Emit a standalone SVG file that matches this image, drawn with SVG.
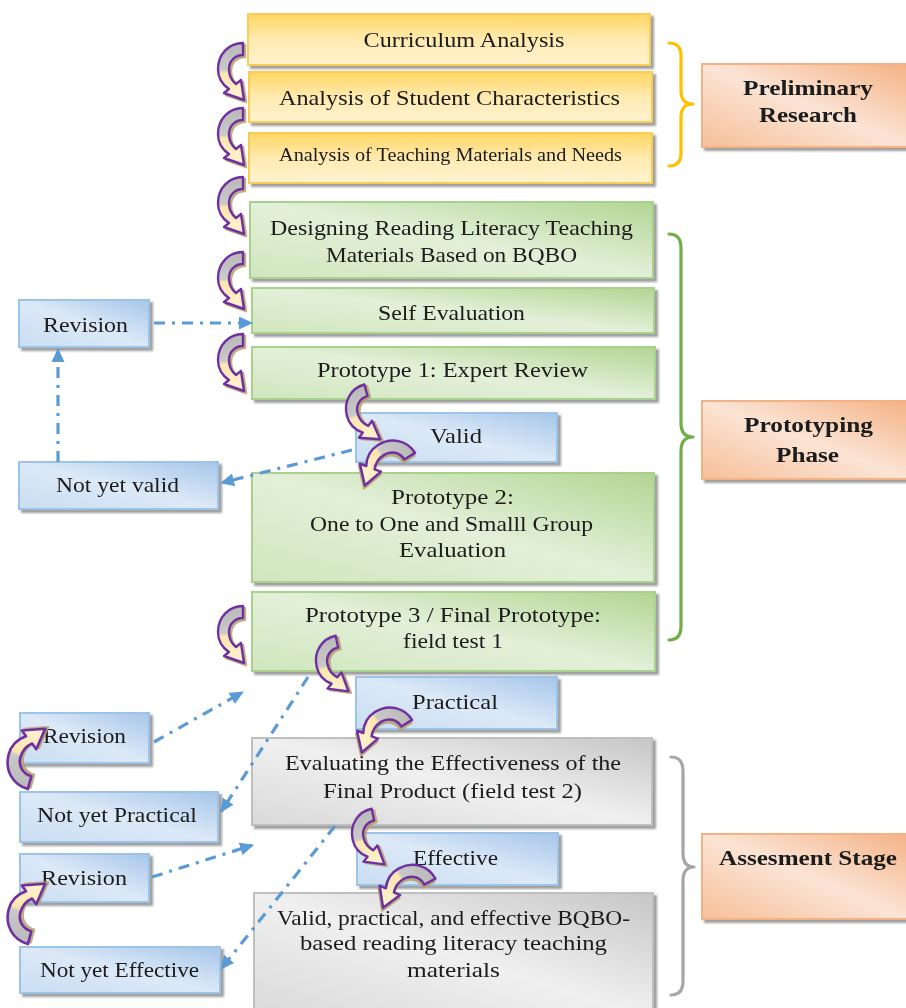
<svg xmlns="http://www.w3.org/2000/svg" xmlns:xlink="http://www.w3.org/1999/xlink" width="906" height="1008" viewBox="0 0 906 1008">
<defs>
<style>
text{font-family:"Liberation Serif","DejaVu Serif",serif;fill:#1a1a1a;text-anchor:middle}
.b{font-weight:bold}
.box{stroke-width:2}
.y{fill:url(#gy);stroke:#f9cc56}
.g{fill:url(#gg);stroke:#a9d18e}
.bl{fill:url(#gb);stroke:#9dc3e6}
.gr{fill:url(#ggr);stroke:#bfbfbf}
.o{fill:url(#go);stroke:#f4b183}
.conn{stroke:#5b9bd5;stroke-width:3.2;fill:none;stroke-dasharray:11 7 3 7;marker-end:url(#ah)}
.brace{fill:none;stroke-width:3.2;stroke-linecap:round;stroke-linejoin:round}
.ca{fill:url(#gca);stroke:#7030a0;stroke-width:2.4;stroke-linejoin:round}
.cas{fill:#b4a06e;stroke:#b4a06e;stroke-width:2.4;stroke-linejoin:round;opacity:.85}
</style>
<filter id="sh" x="-5%" y="-10%" width="115%" height="130%">
<feDropShadow dx="3" dy="3" stdDeviation="1" flood-color="#7f7f7f" flood-opacity="0.75"/>
</filter>
<linearGradient id="gy" x1="0" y1="0" x2="0" y2="1">
<stop offset="0" stop-color="#ffd663"/><stop offset="0.5" stop-color="#ffeab0"/><stop offset="1" stop-color="#fff3d0"/>
</linearGradient>
<linearGradient id="gg" x1="1" y1="0" x2="0" y2="1">
<stop offset="0" stop-color="#b2d592"/><stop offset="0.5" stop-color="#e3f0d9"/><stop offset="1" stop-color="#d0e6bd"/>
</linearGradient>
<linearGradient id="gb" x1="1" y1="0" x2="0" y2="1">
<stop offset="0" stop-color="#a6c6ea"/><stop offset="0.5" stop-color="#dce9f7"/><stop offset="1" stop-color="#c9ddf2"/>
</linearGradient>
<linearGradient id="ggr" x1="1" y1="0" x2="0" y2="1">
<stop offset="0" stop-color="#c6c6c6"/><stop offset="0.5" stop-color="#f0f0f0"/><stop offset="1" stop-color="#d9d9d9"/>
</linearGradient>
<linearGradient id="go" x1="1" y1="0" x2="0" y2="1">
<stop offset="0" stop-color="#f4b183"/><stop offset="0.5" stop-color="#fbe4d5"/><stop offset="1" stop-color="#f6bf98"/>
</linearGradient>
<linearGradient id="gca" x1="0" y1="0" x2="0" y2="1">
<stop offset="0" stop-color="#b9b9b9"/><stop offset="0.47" stop-color="#c9c9c9"/><stop offset="0.53" stop-color="#fde6ae"/><stop offset="1" stop-color="#fff4d4"/>
</linearGradient>
<marker id="ah" markerUnits="userSpaceOnUse" markerWidth="15" markerHeight="13" refX="13" refY="6.5" orient="auto">
<path d="M0,0 L14,6.5 L0,13 Z" fill="#5b9bd5"/>
</marker>
<path id="cap" d="M25 1 C11 1 0 12 0 27 C0 36 5 43 11 47 L6 51 L26 58 L23 38 L18 42 C13 38 11 33 11 27 C11 19 17 13 25 13 Z"/>
<g id="carrow">
<use xlink:href="#cap" href="#cap" class="cas" transform="translate(2,2)"/>
<use xlink:href="#cap" href="#cap" class="ca"/>
</g>
</defs>
<rect width="906" height="1008" fill="#ffffff"/>

<!-- braces -->
<g id="braces">
<path class="brace" stroke="#ffc000" d="M669 43 Q681 43 681 56 L681 91 Q681 104 693 104 Q681 104 681 117 L681 153 Q681 166 669 166"/>
<path class="brace" stroke="#70ad47" d="M669 234 Q681 234 681 248 L681 423 Q681 437 693 437 Q681 437 681 451 L681 626 Q681 640 669 640"/>
<path class="brace" stroke="#a6a6a6" d="M671 757 Q683 757 683 771 L683 853 Q683 867 694 867 Q683 867 683 881 L683 981 Q683 995 671 995"/>
</g>

<!-- phase labels -->
<g id="preliminary" filter="url(#sh)">
<rect class="box o" x="702" y="64" width="208" height="83"/>
<text class="b" x="808" y="95" font-size="21" textLength="130" lengthAdjust="spacingAndGlyphs">Preliminary</text>
<text class="b" x="808" y="122" font-size="21" textLength="98" lengthAdjust="spacingAndGlyphs">Research</text>
</g>
<g id="prototyping" filter="url(#sh)">
<rect class="box o" x="702" y="401" width="208" height="78"/>
<text class="b" x="808.5" y="432" font-size="21" textLength="129" lengthAdjust="spacingAndGlyphs">Prototyping</text>
<text class="b" x="807.5" y="462" font-size="21" textLength="63" lengthAdjust="spacingAndGlyphs">Phase</text>
</g>
<g id="assessment" filter="url(#sh)">
<rect class="box o" x="702" y="834" width="208" height="85"/>
<text class="b" x="808" y="865" font-size="21" textLength="178" lengthAdjust="spacingAndGlyphs">Assesment Stage</text>
</g>

<!-- preliminary boxes -->
<g id="curriculum" filter="url(#sh)">
<rect class="box y" x="248" y="14" width="402" height="51"/>
<text x="464" y="47" font-size="22" textLength="201" lengthAdjust="spacingAndGlyphs">Curriculum Analysis</text>
</g>
<g id="students" filter="url(#sh)">
<rect class="box y" x="249" y="72" width="403" height="50"/>
<text x="449.5" y="105" font-size="22" textLength="341" lengthAdjust="spacingAndGlyphs">Analysis of Student Characteristics</text>
</g>
<g id="needs" filter="url(#sh)">
<rect class="box y" x="249" y="133" width="403" height="50"/>
<text x="450.5" y="161" font-size="18" textLength="343" lengthAdjust="spacingAndGlyphs">Analysis of Teaching Materials and Needs</text>
</g>

<!-- prototyping boxes -->
<g id="designing" filter="url(#sh)">
<rect class="box g" x="250" y="202" width="403" height="76"/>
<text x="451.5" y="235" font-size="22" textLength="363" lengthAdjust="spacingAndGlyphs">Designing Reading Literacy Teaching</text>
<text x="451.5" y="262" font-size="22" textLength="251" lengthAdjust="spacingAndGlyphs">Materials Based on BQBO</text>
</g>
<g id="selfeval" filter="url(#sh)">
<rect class="box g" x="252" y="288" width="402" height="45"/>
<text x="451.5" y="320" font-size="22" textLength="147" lengthAdjust="spacingAndGlyphs">Self Evaluation</text>
</g>
<g id="proto1" filter="url(#sh)">
<rect class="box g" x="252" y="347" width="403" height="52"/>
<text x="452.5" y="377" font-size="22" textLength="271" lengthAdjust="spacingAndGlyphs">Prototype 1: Expert Review</text>
</g>
<g id="proto2" filter="url(#sh)">
<rect class="box g" x="252" y="473" width="402" height="109"/>
<text x="452.5" y="504" font-size="22" textLength="123" lengthAdjust="spacingAndGlyphs">Prototype 2:</text>
<text x="451.5" y="531" font-size="22" textLength="283" lengthAdjust="spacingAndGlyphs">One to One and Smalll Group</text>
<text x="452.5" y="557" font-size="22" textLength="107" lengthAdjust="spacingAndGlyphs">Evaluation</text>
</g>
<g id="proto3" filter="url(#sh)">
<rect class="box g" x="252" y="592" width="403" height="79"/>
<text x="453" y="622" font-size="22" textLength="296" lengthAdjust="spacingAndGlyphs">Prototype 3 / Final Prototype:</text>
<text x="453" y="648" font-size="22" textLength="100" lengthAdjust="spacingAndGlyphs">field test 1</text>
</g>

<!-- assessment boxes -->
<g id="evaluating" filter="url(#sh)">
<rect class="box gr" x="252" y="738" width="400" height="87"/>
<text x="453" y="770" font-size="22" textLength="336" lengthAdjust="spacingAndGlyphs">Evaluating the Effectiveness of the</text>
<text x="452.5" y="798" font-size="22" textLength="259" lengthAdjust="spacingAndGlyphs">Final Product (field test 2)</text>
</g>
<g id="final" filter="url(#sh)">
<rect class="box gr" x="254" y="893" width="399" height="125"/>
<text x="453.5" y="925" font-size="22" textLength="353" lengthAdjust="spacingAndGlyphs">Valid, practical, and effective BQBO-</text>
<text x="453.5" y="950" font-size="22" textLength="307" lengthAdjust="spacingAndGlyphs">based reading literacy teaching</text>
<text x="453.5" y="977" font-size="22" textLength="93" lengthAdjust="spacingAndGlyphs">materials</text>
</g>

<!-- decision boxes -->
<g id="valid" filter="url(#sh)">
<rect class="box bl" x="356" y="413" width="201" height="49"/>
<text x="456" y="443" font-size="22" textLength="52" lengthAdjust="spacingAndGlyphs">Valid</text>
</g>
<g id="practical" filter="url(#sh)">
<rect class="box bl" x="356" y="677" width="201" height="52"/>
<text x="455" y="709" font-size="22" textLength="86" lengthAdjust="spacingAndGlyphs">Practical</text>
</g>
<g id="effective" filter="url(#sh)">
<rect class="box bl" x="357" y="833" width="201" height="52"/>
<text x="455.5" y="865" font-size="22" textLength="85" lengthAdjust="spacingAndGlyphs">Effective</text>
</g>
<g id="revision1" filter="url(#sh)">
<rect class="box bl" x="19" y="300" width="130" height="47"/>
<text x="85.5" y="332" font-size="22" textLength="85" lengthAdjust="spacingAndGlyphs">Revision</text>
</g>
<g id="notvalid" filter="url(#sh)">
<rect class="box bl" x="19" y="462" width="199" height="47"/>
<text x="117.5" y="492" font-size="22" textLength="123" lengthAdjust="spacingAndGlyphs">Not yet valid</text>
</g>
<g id="revision2" filter="url(#sh)">
<rect class="box bl" x="20" y="713" width="129" height="50"/>
<text x="84.5" y="743" font-size="22" textLength="83" lengthAdjust="spacingAndGlyphs">Revision</text>
</g>
<g id="notpractical" filter="url(#sh)">
<rect class="box bl" x="20" y="792" width="198" height="50"/>
<text x="117" y="822" font-size="22" textLength="160" lengthAdjust="spacingAndGlyphs">Not yet Practical</text>
</g>
<g id="revision3" filter="url(#sh)">
<rect class="box bl" x="20" y="854" width="129" height="48"/>
<text x="84" y="885" font-size="22" textLength="86" lengthAdjust="spacingAndGlyphs">Revision</text>
</g>
<g id="noteffective" filter="url(#sh)">
<rect class="box bl" x="20" y="947" width="200" height="46"/>
<text x="119.5" y="977" font-size="22" textLength="159" lengthAdjust="spacingAndGlyphs">Not yet Effective</text>
</g>

<!-- dash-dot connectors -->
<g id="connectors">
<line class="conn" x1="154" y1="323" x2="252" y2="323"/>
<line class="conn" x1="58" y1="462" x2="58" y2="349"/>
<line class="conn" x1="352" y1="450" x2="221" y2="483"/>
<line class="conn" x1="154" y1="742" x2="243" y2="692"/>
<line class="conn" x1="308" y1="677" x2="221" y2="812"/>
<line class="conn" x1="152" y1="877" x2="253" y2="845"/>
<line class="conn" x1="335" y1="826" x2="221" y2="969"/>
</g>

<!-- curved flow arrows -->
<g id="curved-arrows">
<use xlink:href="#carrow" href="#carrow" transform="translate(218,42)"/>
<use xlink:href="#carrow" href="#carrow" transform="translate(218,107)"/>
<use xlink:href="#carrow" href="#carrow" transform="translate(218,176)"/>
<use xlink:href="#carrow" href="#carrow" transform="translate(218,251)"/>
<use xlink:href="#carrow" href="#carrow" transform="translate(218,333)"/>
<use xlink:href="#carrow" href="#carrow" transform="translate(218,605)"/>
<use xlink:href="#carrow" href="#carrow" transform="translate(340,390) rotate(-15)"/>
<use xlink:href="#carrow" href="#carrow" transform="translate(311,640) rotate(-12)"/>
<use xlink:href="#carrow" href="#carrow" transform="translate(347,813) rotate(-12)"/>
<use xlink:href="#carrow" href="#carrow" transform="translate(402,430) rotate(58) scale(1.05)"/>
<use xlink:href="#carrow" href="#carrow" transform="translate(399,697) rotate(58) scale(1.05)"/>
<use xlink:href="#carrow" href="#carrow" transform="translate(424,855) rotate(62) scale(1.05)"/>
<use xlink:href="#carrow" href="#carrow" transform="translate(1,783) scale(1.1,-1.1) rotate(-15)"/>
<use xlink:href="#carrow" href="#carrow" transform="translate(1,938) scale(1.1,-1.1) rotate(-15)"/>
</g>
</svg>
